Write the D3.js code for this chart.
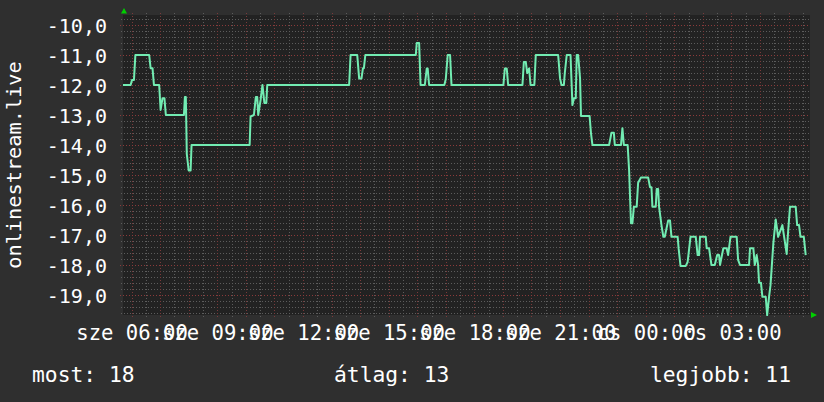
<!DOCTYPE html>
<html><head><meta charset="utf-8">
<script src="https://cdn.jsdelivr.net/npm/d3@7/dist/d3.min.js"></script>
<style>
html,body{margin:0;padding:0;background:#2f2f2f;}
svg{display:block;}
text{font-family:"DejaVu Sans Mono",monospace;fill:#ffffff;}
</style></head>
<body>
<svg id="chart" width="824" height="402"></svg>
<script>
// time in minutes since Wednesday 00:00
const times = [342,358,361,365,368,397,400,404,407,418,421,425,429,432,470,472,474,476,480,484,486,
  608,610,617,621,624,626,631,635,639,643,645,817,820,834,838,843,846,848,851,957,959,964,967,976,
  980,982,985,1017,1020,1024,1029,1032,1141,1144,1148,1151,1181,1184,1188,1191,1195,1198,1206,1209,
  1256,1260,1263,1268,1270,1274,1282,1286,1289,1293,1295,1298,1302,1304,1322,1325,1328,1363,1368,
  1373,1375,1388,1391,1394,1402,1405,1409,1412,1415,1421,1424,1430,1445,1449,1452,1454,1461,1463,
  1466,1468,1473,1477,1480,1487,1491,1494,1507,1509,1513,1524,1528,1534,1545,1549,1552,1554,1566,
  1568,1573,1578,1585,1590,1594,1596,1603,1610,1613,1618,1631,1634,1638,1657,1659,1666,1669,1673,
  1676,1678,1682,1685,1692,1695,1699,1702,1708,1713,1718,1727,1736,1739,1743,1755,1758,1762,1765,
  1772,1776];
const ranks = [-12.0,-12.0,-11.83,-11.83,-11.0,-11.0,-11.44,-11.44,-12.0,-12.0,-12.83,-12.44,-12.44,-13.0,-13.0,-12.4,-12.4,-14.3,-14.85,-14.85,-14.0,
  -14.0,-13.05,-13.0,-12.4,-12.4,-13.0,-12.5,-12.0,-12.6,-12.6,-12.0,-12.0,-11.0,-11.0,-11.78,-11.78,-11.44,-11.44,-11.0,-11.0,-10.6,-10.6,-12.0,-12.0,
  -11.45,-11.45,-12.0,-12.0,-11.8,-11.0,-11.0,-12.0,-12.0,-11.45,-11.45,-12.0,-12.0,-11.23,-11.23,-11.6,-11.45,-12.0,-12.0,-11.0,
  -11.0,-11.78,-12.0,-12.0,-11.6,-11.0,-11.0,-12.67,-12.44,-12.44,-11.0,-11.0,-11.78,-13.03,-13.03,-13.61,-14.0,-14.0,-13.59,
  -13.59,-14.0,-14.0,-13.44,-14.0,-14.0,-14.83,-16.61,-16.61,-16.06,-16.06,-15.26,-15.08,-15.08,-15.41,-15.41,-16.06,-16.06,-15.47,
  -15.47,-16.06,-16.67,-17.06,-17.06,-16.52,-16.52,-17.06,-17.06,-17.44,-18.03,-18.03,-17.9,-17.06,-17.06,-17.67,-17.67,-17.06,-17.06,
  -17.44,-17.44,-18.0,-18.0,-17.67,-17.67,-18.0,-17.44,-17.44,-17.67,-17.06,-17.06,-17.83,-18.0,-18.0,-17.44,-17.44,-18.0,-17.67,
  -18.0,-18.59,-18.59,-19.06,-19.06,-19.67,-19.06,-18.68,-17.28,-16.48,-17.06,-16.67,-17.63,-16.89,-16.06,-16.06,-16.67,-16.67,-17.06,
  -17.06,-17.67];

const xTickTimes = [360,540,720,900,1080,1260,1440,1620];
const xTickLabels = ["sze 06:00","sze 09:00","sze 12:00","sze 15:00","sze 18:00","sze 21:00","cs 00:00","cs 03:00"];
const yTickValues = [-10,-11,-12,-13,-14,-15,-16,-17,-18,-19];
const yTitle = "onlinestream.live";
const legendLabels = ["most","átlag","legjobb"];
const legendValues = [18,13,11];

const svg = d3.select("#chart");
const W = 824, H = 402;
const x = d3.scaleLinear().domain([342, 1785]).range([123, 810]);
const y = d3.scaleLinear().domain([-19.667, -9.667]).range([315, 15]);
const [x0, x1] = x.range();
const [y0, y1] = y.range();

svg.append("rect").attr("width", W).attr("height", H).attr("fill", "#2f2f2f");
svg.append("rect").attr("x", x0).attr("y", y1).attr("width", x1 - x0).attr("height", y0 - y1).attr("fill", "#222222");

const grid = svg.append("g");
// minor grid
const minorV = d3.range(360, 1785, 30).filter(t => t % 60 !== 0);
const minorH = d3.range(-98, -48).map(k => k / 5).filter(v => Math.abs(v - Math.round(v)) > 1e-6);
grid.selectAll(".mv").data(minorV).join("line")
  .attr("x1", d => Math.round(x(d)) + 0.5).attr("x2", d => Math.round(x(d)) + 0.5)
  .attr("y1", y1 - 2).attr("y2", y0 + 2)
  .attr("stroke", "#5c5c5c").attr("stroke-width", 1).attr("stroke-dasharray", "1,2");
grid.selectAll(".mh").data(minorH).join("line")
  .attr("y1", d => Math.round(y(d)) + 0.5).attr("y2", d => Math.round(y(d)) + 0.5)
  .attr("x1", x0 - 2).attr("x2", x1)
  .attr("stroke", "#5c5c5c").attr("stroke-width", 1).attr("stroke-dasharray", "1,2");
// major grid
const majorV = d3.range(360, 1785, 60);
grid.selectAll(".Mv").data(majorV).join("line")
  .attr("x1", d => Math.round(x(d)) + 0.5).attr("x2", d => Math.round(x(d)) + 0.5)
  .attr("y1", y1 - 2).attr("y2", y0 + 3)
  .attr("stroke", "#7a3a3a").attr("stroke-width", 1).attr("stroke-dasharray", "1,2");
grid.selectAll(".Mh").data(yTickValues).join("line")
  .attr("y1", d => Math.round(y(d)) + 0.5).attr("y2", d => Math.round(y(d)) + 0.5)
  .attr("x1", x0 - 3).attr("x2", x1)
  .attr("stroke", "#8a3a3a").attr("stroke-width", 1).attr("stroke-dasharray", "1,2");

// data line
const line = d3.line().x((d, i) => x(times[i])).y(d => y(d)).curve(d3.curveLinear);
svg.append("path").datum(ranks).attr("d", line)
  .attr("fill", "none").attr("stroke", "#72ecb2").attr("stroke-width", 2)
  .attr("stroke-linejoin", "round");

// axes
const yAxis = d3.axisLeft(y).tickValues(yTickValues).tickSize(0).tickPadding(16)
  .tickFormat(d => d3.format(".1f")(d).replace("−", "-").replace(".", ","));
const gy = svg.append("g").attr("transform", `translate(${x0},0)`).call(yAxis);
gy.select(".domain").remove();
gy.selectAll("text").attr("font-size", 20).attr("dy", "0.36em")
  .style("font-family", "DejaVu Sans Mono").attr("fill", "#fff");

const xAxis = d3.axisBottom(x).tickValues(xTickTimes).tickSize(0).tickPadding(10)
  .tickFormat((d, i) => xTickLabels[i]);
const gx = svg.append("g").attr("transform", `translate(0,${y0})`).call(xAxis);
gx.select(".domain").remove();
gx.selectAll("text").attr("font-size", 20.6)
  .style("font-family", "DejaVu Sans Mono").attr("fill", "#fff");

// arrows
svg.append("path")
  .attr("d", `M${x0 - 2},${y1 - 1.5} L${x0 + 4},${y1 - 1.5} L${x0 + 1},${y1 - 7} Z`)
  .attr("fill", "#00d000");
svg.append("path")
  .attr("d", `M${x1 + 1},${y0 - 3} L${x1 + 1},${y0 + 3} L${x1 + 7},${y0} Z`)
  .attr("fill", "#00d000");

// y title
svg.append("text").attr("transform", `translate(21,${(y0 + y1) / 2}) rotate(-90)`)
  .attr("text-anchor", "middle").attr("font-size", 20.3).text(yTitle);

// legend
const legendX = [32, 334, 791];
const legendAnchor = ["start", "start", "end"];
svg.selectAll(".leg").data(legendLabels).join("text")
  .attr("x", (d, i) => legendX[i]).attr("y", 382)
  .attr("text-anchor", (d, i) => legendAnchor[i])
  .attr("font-size", 21.3)
  .text((d, i) => `${d}: ${legendValues[i]}`);
</script>
</body></html>
